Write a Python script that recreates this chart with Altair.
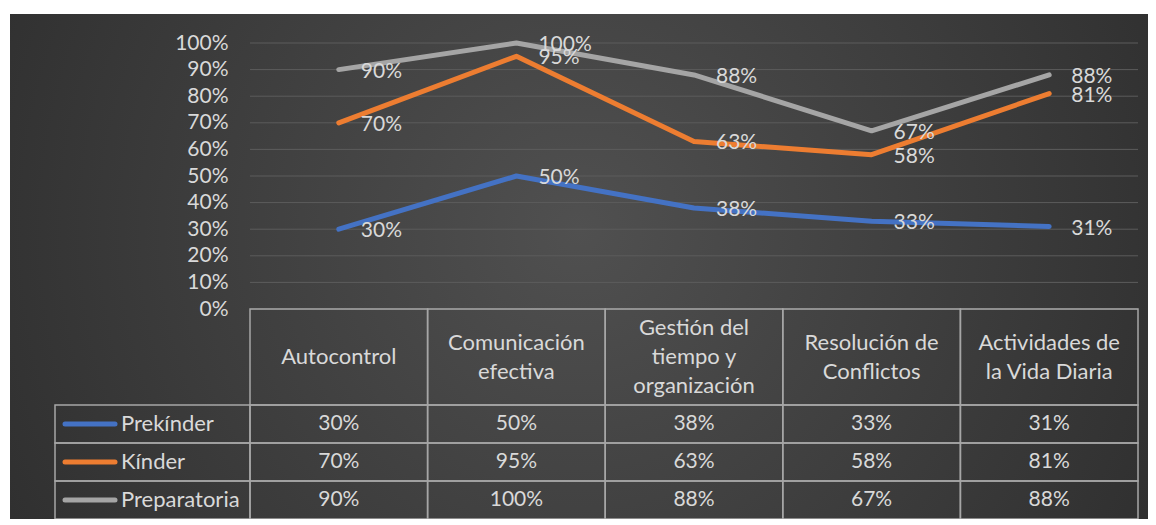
import altair as alt
import pandas as pd

# ---- data ----
categories = ["Autocontrol", "Comunicación efectiva", "Gestión del tiempo y organización",
              "Resolución de Conflictos", "Actividades de la Vida Diaria"]
header_labels = ["Autocontrol", "Comunicación\nefectiva", "Gestión del\ntiempo y\norganización",
                 "Resolución de\nConflictos", "Actividades de\nla Vida Diaria"]
series = ["Prekínder", "Kínder", "Preparatoria"]
prekinder = [0.30, 0.50, 0.38, 0.33, 0.31]
kinder = [0.70, 0.95, 0.63, 0.58, 0.81]
preparatoria = [0.90, 1.00, 0.88, 0.67, 0.88]
colors = ["#4472C4", "#ED7D31", "#A5A5A5"]
y_ticks = [0, 0.1, 0.2, 0.3, 0.4, 0.5, 0.6, 0.7, 0.8, 0.9, 1.0]

rows = []
for s, vals in zip(series, [prekinder, kinder, preparatoria]):
    for c, v in zip(categories, vals):
        rows.append({"series": s, "category": c, "value": v})
df = pd.DataFrame(rows)
hdr = pd.DataFrame({"category": categories, "header": header_labels})
leg = pd.DataFrame({"series": series})
ticks = pd.DataFrame({"tick": y_ticks})
one = pd.DataFrame({"k": [0]})

W, H = 888, 266
FONT = "Lato"
TXT = "#d9d9d9"
LINE = "#a6a6a6"
LH = 29
ROW_TOP, ROW_BOT = 362, 476

x_pt = alt.X("category:N", sort=categories, scale=alt.Scale(type="point", padding=0.5, domain=categories), axis=None)
x_band = alt.X("category:N", sort=categories,
               scale=alt.Scale(type="band", domain=categories, paddingInner=0, paddingOuter=0), axis=None)
y_val = alt.Y("value:Q", scale=alt.Scale(domain=[0, 1]), axis=None)
y_rows = alt.Y("series:N", sort=series,
               scale=alt.Scale(type="band", domain=series, range=[ROW_TOP, ROW_BOT], paddingInner=0, paddingOuter=0),
               axis=None)
col = alt.Color("series:N", scale=alt.Scale(domain=series, range=colors), legend=None)

bg = alt.Chart(one).mark_rect(
    fill={"gradient": "radial", "x1": 0.5, "y1": 0.45, "r1": 0, "x2": 0.5, "y2": 0.45, "r2": 0.75,
          "stops": [{"offset": 0, "color": "#505050"}, {"offset": 1, "color": "#252525"}]}
).encode(x=alt.value(-240), x2=alt.value(W + 10), y=alt.value(-29), y2=alt.value(H + 250))

grid = alt.Chart(ticks).mark_rule(color="#5c5c5c", strokeWidth=1).encode(
    y=alt.Y("tick:Q", scale=alt.Scale(domain=[0, 1]), title=None,
            axis=alt.Axis(values=y_ticks, format=".0%", grid=False, domain=False, ticks=False, title=None,
                          labelPadding=22, labelFontSize=21, labelColor=TXT, labelFont=FONT, zindex=1)),
    x=alt.value(0), x2=alt.value(W))

lines = alt.Chart(df).mark_line(strokeWidth=5, strokeCap="round", strokeJoin="round").encode(
    x=x_pt, y=y_val, color=col, detail="series:N")

labels = alt.Chart(df).mark_text(align="left", baseline="middle", dx=22, dy=2, fontSize=21,
                                 font=FONT, color=TXT).encode(
    x=x_pt, y=y_val, text=alt.Text("value:Q", format=".0%"))

hdr_cells = alt.Chart(hdr).mark_rect(fillOpacity=0, stroke=LINE, strokeWidth=1.5).encode(
    x=x_band, y=alt.value(H), y2=alt.value(ROW_TOP))
hdr_text = alt.Chart(hdr).transform_calculate(
    nlines="length(split(datum.header, '\\n'))",
    ypix=f"{(H + ROW_TOP) / 2} - (datum.nlines - 1) * {LH} / 2",
).mark_text(lineBreak="\n", lineHeight=LH, fontSize=22, font=FONT,
            color=TXT, baseline="middle").encode(
    x=x_band, y=alt.Y("ypix:Q", scale=None, axis=None), text="header:N")

cells = alt.Chart(df).mark_rect(fillOpacity=0, stroke=LINE, strokeWidth=1.5).encode(x=x_band, y=y_rows)
cell_text = alt.Chart(df).mark_text(fontSize=21, font=FONT, color=TXT, baseline="middle").encode(
    x=x_band, y=y_rows, text=alt.Text("value:Q", format=".0%"))

leg_cells = alt.Chart(leg).mark_rect(fillOpacity=0, stroke=LINE, strokeWidth=1.5).encode(
    x=alt.value(-195), x2=alt.value(0), y=y_rows)
leg_sw = alt.Chart(leg).mark_rule(strokeWidth=5, strokeCap="round").encode(
    x=alt.value(-185), x2=alt.value(-135), y=y_rows, color=col)
leg_text = alt.Chart(leg).mark_text(align="left", baseline="middle", fontSize=22, font=FONT,
                                    color=TXT).encode(x=alt.value(-129), y=y_rows, text="series:N")

chart = alt.layer(bg, grid, lines, labels, hdr_cells, hdr_text, cells, cell_text,
                  leg_cells, leg_sw, leg_text).resolve_scale(
    x="independent", y="independent").properties(
    width=W, height=H, autosize=alt.AutoSizeParams(type="none"),
    padding={"left": 242, "top": 35, "right": 10, "bottom": 210},
    background="white").configure_view(stroke=None)

chart.save("out.html", embed_options={"renderer": "svg", "actions": False})
